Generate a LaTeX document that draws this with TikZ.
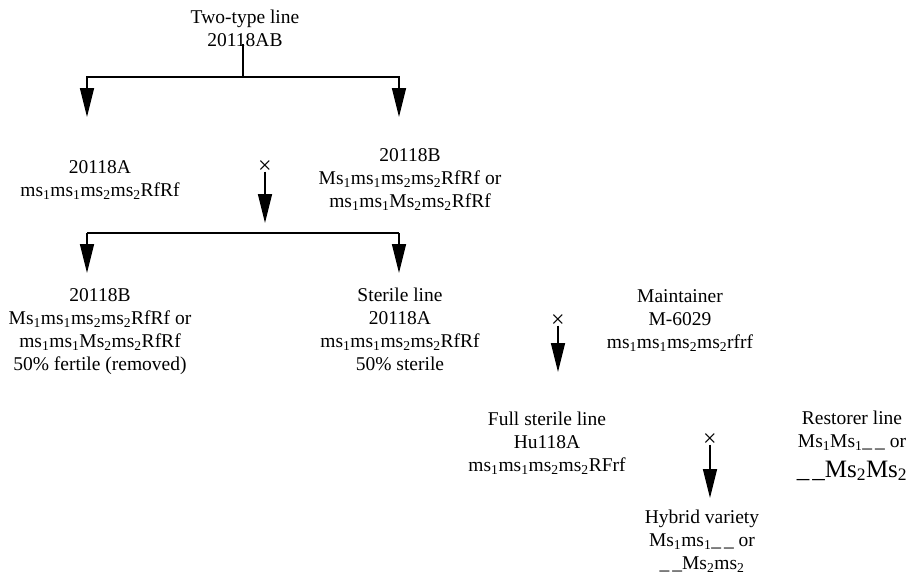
\documentclass[tikz,border=0pt]{standalone}
\usepackage{fontspec}
\setmainfont{Liberation Serif}
\usetikzlibrary{arrows.meta}
\newcommand{\sbs}[1]{\textsubscript{#1}}
\newcommand{\uu}{\_\hspace{3pt}\_}
\begin{document}
\begin{tikzpicture}[x=1pt,y=-1pt,
  lbl/.style={inner sep=0pt, align=center, anchor=base, font=\fontsize{19.5}{23}\selectfont},
  crs/.style={inner sep=0pt, font=\fontsize{24}{24}\selectfont},
  conn/.style={line width=1.5pt},
  arr/.style={line width=1.5pt, -{Triangle[length=29pt,width=14pt]}}]
\useasboundingbox (0,0) rectangle (912,578);

% nodes (anchor = baseline of last line)
\node[lbl] (top) at (245,47) {Two-type line\\20118AB};
\node[lbl] (a1) at (100,196) {20118A\\ms\sbs1ms\sbs1ms\sbs2ms\sbs2RfRf};
\node[lbl] (b1) at (410,207) {20118B\\Ms\sbs1ms\sbs1ms\sbs2ms\sbs2RfRf or\\ms\sbs1ms\sbs1Ms\sbs2ms\sbs2RfRf};
\node[crs] (x1) at (265,167) {×};
\node[lbl] (b2) at (100,370) {20118B\\Ms\sbs1ms\sbs1ms\sbs2ms\sbs2RfRf or\\ms\sbs1ms\sbs1Ms\sbs2ms\sbs2RfRf\\50\% fertile (removed)};
\node[lbl] (s2) at (400,370) {Sterile line\\20118A\\ms\sbs1ms\sbs1ms\sbs2ms\sbs2RfRf\\50\% sterile};
\node[lbl] (m2) at (680,348) {Maintainer\\M-6029\\ms\sbs1ms\sbs1ms\sbs2ms\sbs2rfrf};
\node[crs] (x2) at (558,321) {×};
\node[lbl] (f3) at (547,471) {Full sterile line\\Hu118A\\ms\sbs1ms\sbs1ms\sbs2ms\sbs2RFrf};
\node[crs] (x3) at (710,440) {×};
\node[lbl] (r3) at (852,477) {Restorer line\\Ms\sbs1Ms\sbs1\uu{} or\\[7pt]{\fontsize{25}{25}\selectfont\uu Ms\sbs2Ms\sbs2}};
\node[lbl] (h4) at (702,569) {Hybrid variety\\Ms\sbs1ms\sbs1\uu{} or\\\uu Ms\sbs2ms\sbs2};

% coordinates
\coordinate (j1) at (243,77);
\coordinate (e1a) at (87,117);
\coordinate (e1b) at (399,117);
\coordinate (ex1) at (265,223);
\coordinate (j2a) at (87,233);
\coordinate (j2b) at (399,233);
\coordinate (e2a) at (87,273);
\coordinate (e2b) at (399,273);
\coordinate (ex2) at (558,372);
\coordinate (ex3) at (710,498);

% connectors
\draw[conn] ([yshift=3pt]top.south -| j1) -- (j1);
\draw[arr] (j1) -| (e1a);
\draw[arr] (j1) -| (e1b);
\draw[arr] ([yshift=2pt]x1.south) -- (ex1);
\draw[conn] (j2a) -- (j2b);
\draw[arr] (j2a) -- (e2a);
\draw[arr] (j2b) -- (e2b);
\draw[arr] ([yshift=2pt]x2.south) -- (ex2);
\draw[arr] ([yshift=2pt]x3.south) -- (ex3);
\end{tikzpicture}
\end{document}
